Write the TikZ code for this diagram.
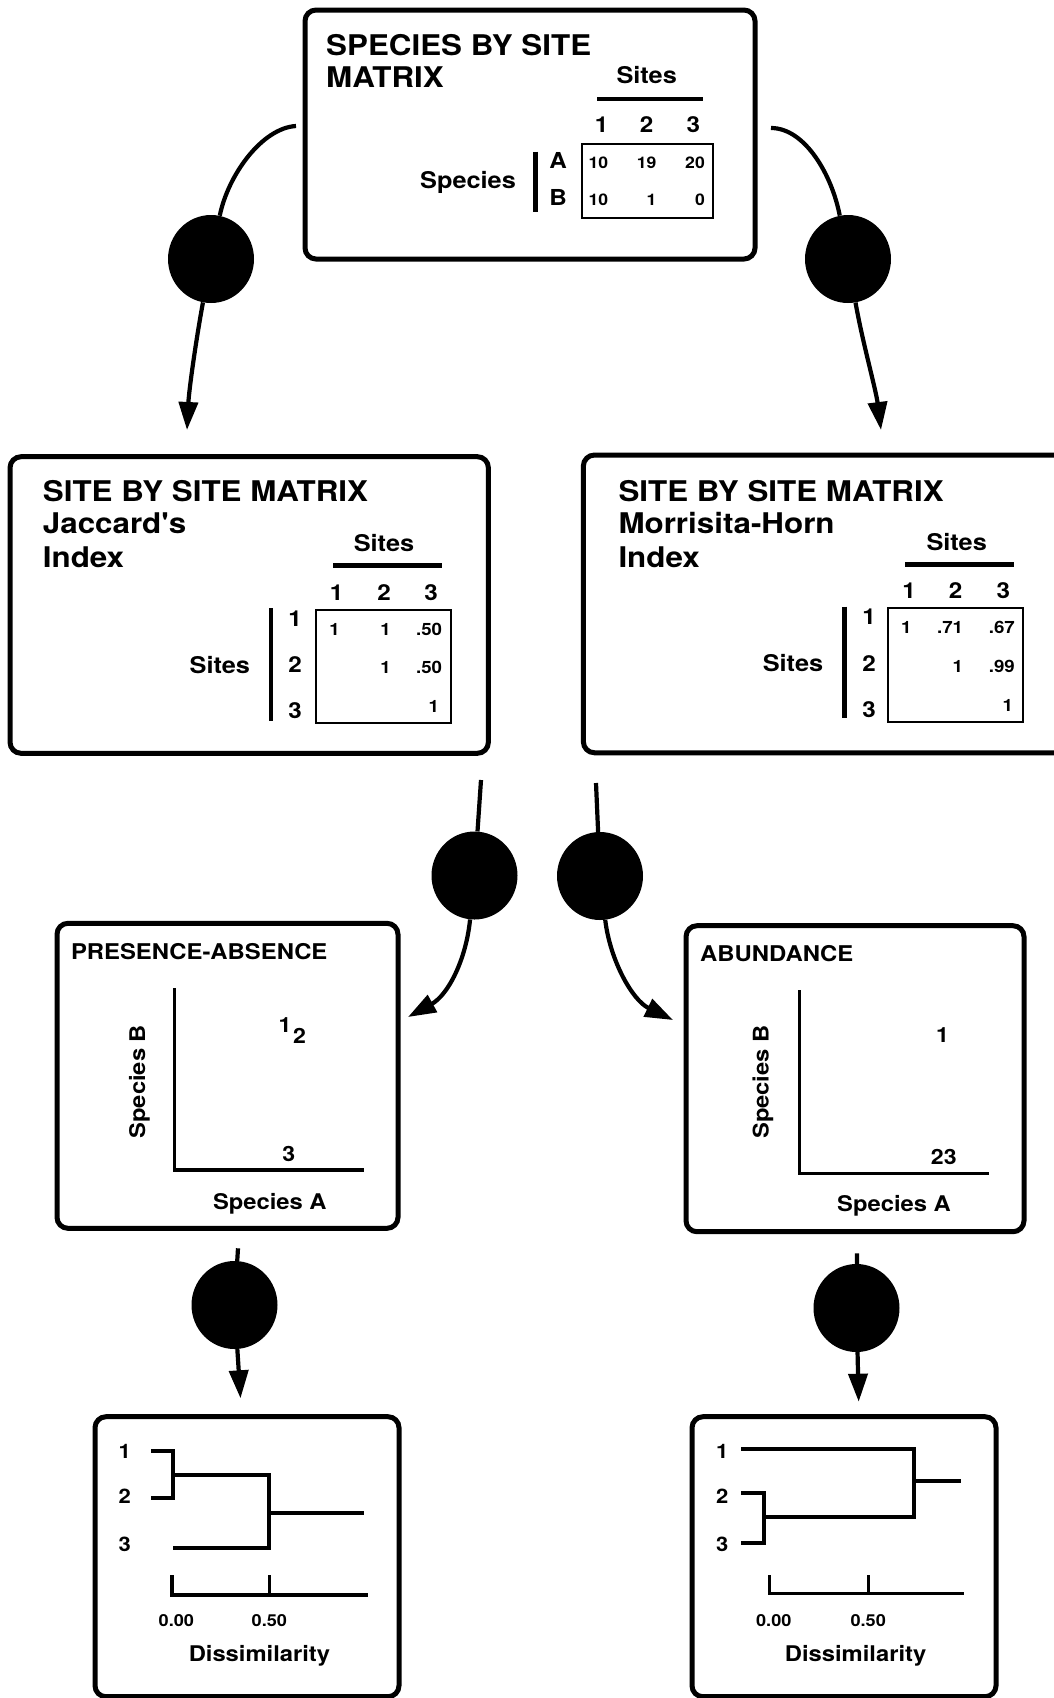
\documentclass[tikz,border=0pt]{standalone}
\usepackage{fontspec}
\setmainfont{TeX Gyre Heros}[FakeStretch=1.1]
\newfontfamily\apfont{TeX Gyre Heros}[FakeStretch=1.1]
\usetikzlibrary{shapes.geometric,arrows.meta}
\newcommand\myfz[1]{\fontsize{#1}{#1}\selectfont\bfseries}
\begin{document}
\begin{tikzpicture}[x=1pt,y=-1pt,
  panel/.style={draw,line width=5pt,rounded corners=11pt,inner sep=0pt},
  mtx/.style={draw,line width=1.9pt,inner sep=0pt},
  dot/.style={ellipse,fill=black,draw=none,inner sep=0pt,minimum width=86pt,minimum height=88pt},
  conn/.style={line width=4.2pt},
  arr/.style={line width=4.2pt,-{Triangle[length=28pt,width=19pt]}},
  rulebar/.style={line width=4.5pt},
  axisline/.style={line width=3.2pt},
  dend/.style={line width=4pt},
  ttl/.style={anchor=base west,inner sep=0pt,font=\myfz{28.5}},
  hd/.style={anchor=base,inner sep=0pt,font=\myfz{23}},
  num/.style={anchor=base,inner sep=0pt,font=\myfz{22}},
  valt/.style={anchor=base east,inner sep=0pt,font=\myfz{16}},
  valm/.style={anchor=base east,inner sep=0pt,font=\myfz{17}},
  ptl/.style={anchor=base west,inner sep=0pt,font=\myfz{21.7}},
  ax/.style={anchor=base,inner sep=0pt,font=\myfz{21.6}},
  pt/.style={anchor=base,inner sep=0pt,font=\myfz{21}},
  tk/.style={anchor=base,inner sep=0pt,font=\myfz{16.5}},
  lf/.style={anchor=base,inner sep=0pt,font=\myfz{20}},
]
\fill[white] (0,0) rectangle (1053,1698);
\useasboundingbox (0,0) rectangle (1053,1698);

% ---------- top panel ----------
\node[panel,minimum width=450pt,minimum height=249pt] (top) at (530,134.5) {};
\node[ttl] (topt1) at (326,55) {SPECIES BY SITE};
\node[ttl] (topt2) at (326,87) {MATRIX};
\node[hd] (topsites) at (646.7,83) {Sites};
\draw[rulebar] (597,99) -- (703,99);
\node[num] (topc1) at (601.7,132) {1};
\node[num] (topc2) at (646.7,132) {2};
\node[num] (topc3) at (693.3,132) {3};
\node[mtx,minimum width=131pt,minimum height=74pt] (topm) at (647.5,181) {};
\node[num] (topra) at (558,168.3) {A};
\node[num] (toprb) at (558,205.7) {B};
\draw[rulebar] (535.7,151.7) -- (535.7,211.7);
\node[hd] (topspec) at (468,188.3) {Species};
\node[valt] (tv11) at (608.3,168.3) {10};
\node[valt] (tv12) at (656.7,168.3) {19};
\node[valt] (tv13) at (705,168.3) {20};
\node[valt] (tv21) at (608.3,205.7) {10};
\node[valt] (tv22) at (656.7,205.7) {1};
\node[valt] (tv23) at (705,205.7) {0};

% ---------- left middle panel ----------
\node[panel,minimum width=478.3pt,minimum height=296.6pt] (jac) at (249.2,605) {};
\node[ttl] (jt1) at (42.7,501.7) {SITE BY SITE MATRIX};
\node[ttl] (jt2) at (42.7,533.5) {Jaccard{\apfont '}s};
\node[ttl] (jt3) at (42.7,567) {Index};
\node[hd] (jsites) at (384,551.7) {Sites};
\draw[rulebar] (333,565.7) -- (441.7,565.7);
\node[num] (jc1) at (336.7,600) {1};
\node[num] (jc2) at (384,600) {2};
\node[num] (jc3) at (431,600) {3};
\node[mtx,minimum width=134.7pt,minimum height=112.7pt] (jm) at (383.4,666.4) {};
\node[num] (jr1) at (295,626.7) {1};
\node[num] (jr2) at (295,672) {2};
\node[num] (jr3) at (295,718.3) {3};
\draw[rulebar] (271,608) -- (271,720.7);
\node[hd] (jrs) at (219.8,673.3) {Sites};
\node[valm] (jv11) at (340,635) {1};
\node[valm] (jv12) at (391,635) {1};
\node[valm] (jv13) at (442.3,635) {.50};
\node[valm] (jv22) at (391,673.3) {1};
\node[valm] (jv23) at (442.3,673.3) {.50};
\node[valm] (jv33) at (439.3,712.7) {1};

% ---------- right middle panel ----------
\node[panel,minimum width=516.7pt,minimum height=297.7pt] (mh) at (841.7,603.9) {};
\node[ttl] (mt1) at (618.3,501.7) {SITE BY SITE MATRIX};
\node[ttl] (mt2) at (618.3,533.3) {Morrisita-Horn};
\node[ttl] (mt3) at (618.3,567.3) {Index};
\node[hd] (msites) at (956.7,550) {Sites};
\draw[rulebar] (905,564.3) -- (1014.3,564.3);
\node[num] (mc1) at (909,598.3) {1};
\node[num] (mc2) at (955.7,598.3) {2};
\node[num] (mc3) at (1003.3,598.3) {3};
\node[mtx,minimum width=135pt,minimum height=113.4pt] (mm) at (955.8,665) {};
\node[num] (mr1) at (869,624.3) {1};
\node[num] (mr2) at (869,671) {2};
\node[num] (mr3) at (869,717.7) {3};
\draw[rulebar] (844.3,606.7) -- (844.3,718.3);
\node[hd] (mrs) at (793,671.7) {Sites};
\node[valm] (mv11) at (911.7,633.3) {1};
\node[valm] (mv12) at (963.3,633.3) {.71};
\node[valm] (mv13) at (1015,633.3) {.67};
\node[valm] (mv22) at (963.3,672.3) {1};
\node[valm] (mv23) at (1015,672.3) {.99};
\node[valm] (mv33) at (1013.3,711.7) {1};

% ---------- presence-absence panel ----------
\node[panel,minimum width=341pt,minimum height=305pt] (pa) at (227.5,1075.8) {};
\node[ptl] (pat) at (70.8,959.3) {PRESENCE-ABSENCE};
\draw[axisline] (174.6,988.3) -- (174.6,1170) -- (363.7,1170);
\node[ax,rotate=90,anchor=center] (pab) at (139.4,1081.7) {Species B};
\node[pt] (pa1) at (285,1032) {1};
\node[pt] (pa2) at (299.6,1043.3) {2};
\node[pt] (pa3) at (288.7,1161.7) {3};
\node[ax] (paa) at (269.8,1209.3) {Species A};

% ---------- abundance panel ----------
\node[panel,minimum width=338pt,minimum height=306pt] (ab) at (855,1078.7) {};
\node[ptl] (abt) at (700,961) {ABUNDANCE};
\draw[axisline] (799.6,990) -- (799.6,1173.3) -- (988.7,1173.3);
\node[ax,rotate=90,anchor=center] (abb) at (763,1082) {Species B};
\node[pt] (ab1) at (942.6,1042.7) {1};
\node[pt] (ab23) at (943.8,1164) {23};
\node[ax] (aba) at (894,1211) {Species A};

% ---------- left dendrogram ----------
\node[panel,minimum width=304pt,minimum height=280pt] (dl) at (247,1556.7) {};
\node[lf] (dl1) at (124.8,1458.3) {1};
\node[lf] (dl2) at (124.8,1503.3) {2};
\node[lf] (dl3) at (124.8,1551.7) {3};
\draw[dend] (151,1450.7) -- (173.2,1450.7) -- (173.2,1498.3) -- (151,1498.3);
\draw[dend] (173.2,1475) -- (268.8,1475) -- (268.8,1548.3) -- (173.2,1548.3);
\draw[dend] (268.8,1512.7) -- (363.8,1512.7);
\draw[axisline] (172,1575) -- (172,1595) -- (368.2,1595);
\draw[axisline] (269.4,1575) -- (269.4,1595);
\node[tk] (dlt0) at (176.4,1626.7) {0.00};
\node[tk] (dlt5) at (269.4,1626.7) {0.50};
\node[ax] (dld) at (259.4,1661.7) {Dissimilarity};

% ---------- right dendrogram ----------
\node[panel,minimum width=304pt,minimum height=280pt] (dr) at (844,1556.7) {};
\node[lf] (dr1) at (722.3,1458.3) {1};
\node[lf] (dr2) at (722.3,1503.3) {2};
\node[lf] (dr3) at (722.3,1551.7) {3};
\draw[dend] (741,1449.3) -- (913.5,1449.3) -- (913.5,1516.7) -- (764.4,1516.7);
\draw[dend] (913.5,1480.7) -- (960.6,1480.7);
\draw[dend] (741,1493.3) -- (764.4,1493.3) -- (764.4,1542.7) -- (741,1542.7);
\draw[axisline] (769.4,1575) -- (769.4,1593.3) -- (964.4,1593.3);
\draw[axisline] (868.2,1575) -- (868.2,1593.3);
\node[tk] (drt0) at (773.8,1626.7) {0.00};
\node[tk] (drt5) at (868.2,1626.7) {0.50};
\node[ax] (drd) at (855.6,1661.7) {Dissimilarity};

% ---------- process dots and connectors ----------
\node[dot] (d1) at (211,259) {};
\node[dot] (d2) at (848,259) {};
\node[dot] (d3) at (474.5,875.5) {};
\node[dot] (d4) at (600,876) {};
\node[dot] (d5) at (234.5,1305) {};
\node[dot] (d6) at (856.5,1308) {};
\coordinate (s1) at (296,126);
\coordinate (t1) at (187,430);
\coordinate (s2) at (771,128);
\coordinate (t2) at (881,430);
\coordinate (s3) at (481,780);
\coordinate (t3) at (408,1017);
\coordinate (s4) at (596,783);
\coordinate (t4) at (673,1020);
\coordinate (s5) at (238,1248.3);
\coordinate (t5) at (240.5,1398.3);
\coordinate (s6) at (857,1253.3);
\coordinate (t6) at (858.7,1401.7);
\draw[conn] (s1) .. controls (262,128) and (228,175) .. (d1);
\draw[arr] (d1) .. controls (196,340) and (189,390) .. (t1);
\draw[conn] (s2) .. controls (805,128) and (832,175) .. (d2);
\draw[arr] (d2) .. controls (862,340) and (876,390) .. (t2);
\draw[conn] (s3) -- (d3);
\draw[arr] (d3) .. controls (466,960) and (448,995) .. (t3);
\draw[conn] (s4) -- (d4);
\draw[arr] (d4) .. controls (610,960) and (632,1000) .. (t4);
\draw[conn] (s5) -- (d5);
\draw[arr] (d5) -- (t5);
\draw[conn] (s6) -- (d6);
\draw[arr] (d6) -- (t6);
\end{tikzpicture}
\end{document}
